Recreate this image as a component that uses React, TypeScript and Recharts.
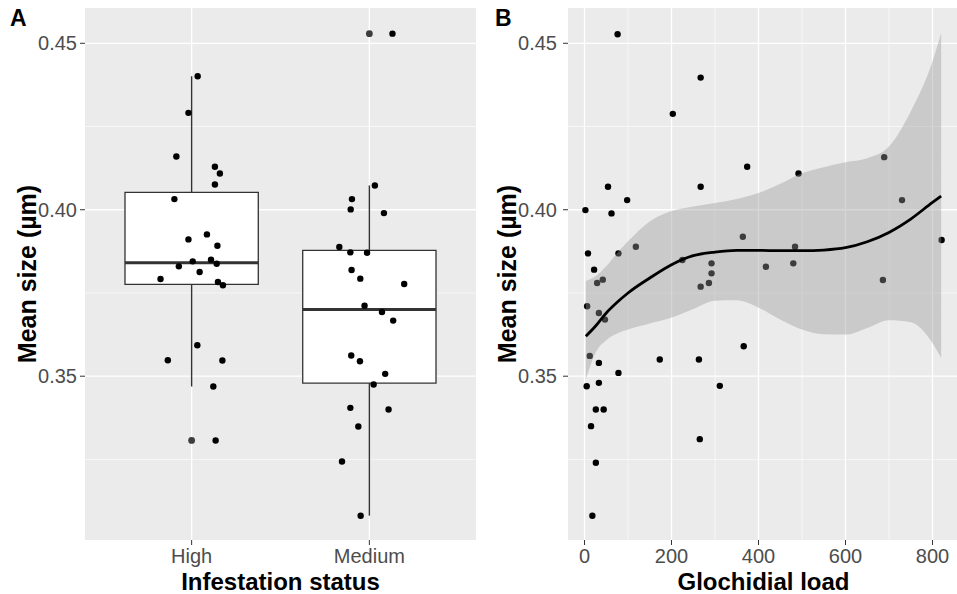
import {
  Area,
  CartesianGrid,
  ComposedChart,
  Line,
  ReferenceArea,
  ReferenceLine,
  Scatter,
  XAxis,
  YAxis,
} from "recharts";

const FONT = '"Liberation Sans", Arial, Helvetica, sans-serif';

// Panel A: mean size per infestation status (jitter in category units)
const statusNames = ["High", "Medium"];
const highSize = [
  0.4401, 0.4291, 0.416, 0.4129, 0.4109, 0.4076, 0.4032, 0.3926, 0.3911, 0.3892,
  0.3845, 0.385, 0.3838, 0.383, 0.3813, 0.3792, 0.3783, 0.3773, 0.3593, 0.3548,
  0.3547, 0.3469, 0.3307,
];
const highJitter = [
  0.034, -0.018, -0.086, 0.131, 0.159, 0.131, -0.097, 0.086, -0.018, 0.145,
  0.006, 0.109, 0.141, -0.072, 0.045, -0.175, 0.148, 0.176, 0.032, -0.134,
  0.173, 0.122, 0.135,
];
const mediumSize = [
  0.4529, 0.4073, 0.4032, 0.4001, 0.399, 0.3888, 0.3872, 0.3871, 0.3819, 0.3793,
  0.3777, 0.3712, 0.3693, 0.3667, 0.3562, 0.3545, 0.3507, 0.3475, 0.3405, 0.34,
  0.3349, 0.3244, 0.3081,
];
const mediumJitter = [
  0.13, 0.031, -0.098, -0.105, 0.082, -0.169, -0.107, -0.013, -0.1, -0.051,
  0.196, -0.027, 0.071, 0.134, -0.102, -0.053, 0.089, 0.024, -0.107, 0.108,
  -0.062, -0.154, -0.049,
];
// [lower whisker, Q1, median, Q3, upper whisker]
const highBox = [0.3469, 0.3776, 0.3841, 0.4052, 0.4401];
const mediumBox = [0.3081, 0.3479, 0.37, 0.3878, 0.4073];

// Panel B: mean size against glochidial load
const glochidialLoad = [
  76, 267, 203, 374, 492, 689, 730, 821, 54, 267, 2, 62, 98, 8, 78, 118, 22, 29,
  42, 364, 484, 480, 417, 292, 292, 286, 267, 686, 225, 366, 263, 311, 6, 33, 47,
  12, 33, 78, 5, 33, 26, 44, 15, 26, 18, 173, 265,
];
const loadSize = [
  0.4527, 0.4397, 0.4288, 0.4129, 0.4109, 0.4158, 0.4029, 0.3909, 0.4069, 0.4069,
  0.3999, 0.3989, 0.4029, 0.3869, 0.3869, 0.3889, 0.382, 0.378, 0.379, 0.3919,
  0.3889, 0.3839, 0.3829, 0.3839, 0.3809, 0.378, 0.3769, 0.3789, 0.3849, 0.359,
  0.355, 0.3471, 0.371, 0.369, 0.367, 0.3561, 0.354, 0.351, 0.347, 0.348, 0.34,
  0.34, 0.335, 0.324, 0.3081, 0.355, 0.3311,
];

// loess fit with its 95% band
const smoothLoad = [3, 25, 50, 75, 100, 150, 200, 250, 300, 350, 400, 450, 500, 550, 600, 650, 700, 750, 800, 820];
const smoothFit = [
  0.362, 0.365, 0.369, 0.3722, 0.375, 0.3795, 0.3835, 0.3862, 0.3873, 0.3878,
  0.3878, 0.3877, 0.3877, 0.3879, 0.3886, 0.3904, 0.3932, 0.3972, 0.4022, 0.4041,
];
const smoothLower = [
  0.349, 0.357, 0.3608, 0.3628, 0.364, 0.3658, 0.3676, 0.3702, 0.3727, 0.3728,
  0.3706, 0.367, 0.364, 0.3626, 0.3625, 0.3645, 0.3668, 0.3662, 0.36, 0.3555,
];
const smoothUpper = [
  0.3786, 0.38, 0.383, 0.387, 0.3905, 0.3965, 0.3996, 0.401, 0.402, 0.4032,
  0.405, 0.4078, 0.411, 0.4128, 0.4143, 0.4155, 0.419, 0.4295, 0.4445, 0.453,
];

const yDomain = [0.3008, 0.4606];
const majorY = [0.35, 0.4, 0.45];
const minorY = [0.325, 0.375, 0.425];
const loadTicks = [0, 200, 400, 600, 800];
const minorLoad = [100, 300, 500, 700];

const tickStyle = { fill: "#4d4d4d", fontSize: 20, fontFamily: FONT };
const titleStyle = { fill: "#000", fontSize: 24, fontWeight: 700, fontFamily: FONT };
const yTitleStyle = { ...titleStyle, fontSize: 25, textAnchor: "middle" as const };

const dot = (fill: string, r = 3.2) => (props: any) =>
  <circle cx={props.cx} cy={props.cy} r={r} fill={fill} />;

function StatusPanel() {
  const groups = [highSize, mediumSize];
  const jitters = [highJitter, mediumJitter];
  const boxes = [highBox, mediumBox];
  const points = groups.flatMap((g, gi) =>
    g.map((y, i) => ({ x: gi + 1 + jitters[gi][i], y }))
  );
  // values beyond the whiskers are also drawn at the box centre
  const outliers = groups.flatMap((g, gi) =>
    g.filter((v) => v < boxes[gi][0] || v > boxes[gi][4]).map((y) => ({ x: gi + 1, y }))
  );

  return (
    <ComposedChart width={476} height={594} margin={{ top: 8, right: 0, bottom: 0, left: 0 }}>
      <CartesianGrid fill="#ebebeb" stroke="#fff" strokeWidth={1.3} horizontalValues={majorY} verticalValues={[1, 2]} />
      <CartesianGrid stroke="#fff" strokeWidth={0.6} horizontalValues={minorY} vertical={false} />
      <XAxis
        type="number"
        dataKey="x"
        domain={[0.4, 2.6]}
        ticks={[1, 2]}
        allowDataOverflow
        tickFormatter={(v) => statusNames[v - 1]}
        tick={tickStyle}
        tickLine={{ stroke: "#333" }}
        tickSize={5}
        tickMargin={4}
        axisLine={false}
        height={54}
        label={{ value: "Infestation status", position: "insideBottom", offset: 4, style: titleStyle }}
      />
      <YAxis
        type="number"
        dataKey="y"
        domain={yDomain}
        ticks={majorY}
        allowDataOverflow
        tickFormatter={(v) => v.toFixed(2)}
        tick={tickStyle}
        tickLine={{ stroke: "#333" }}
        tickSize={5}
        tickMargin={3}
        axisLine={false}
        width={85}
        label={{ value: "Mean size (µm)", angle: -90, position: "insideLeft", offset: 27, style: yTitleStyle }}
      />
      {boxes.map((b, gi) => (
        <ReferenceArea
          key={`box${gi}`}
          x1={gi + 1 - 0.375}
          x2={gi + 1 + 0.375}
          y1={b[1]}
          y2={b[3]}
          fill="#fff"
          fillOpacity={1}
          stroke="#333"
          strokeWidth={1.3}
        />
      ))}
      {boxes.map((b, gi) => (
        <ReferenceLine
          key={`lo${gi}`}
          segment={[{ x: gi + 1, y: b[0] }, { x: gi + 1, y: b[1] }]}
          stroke="#333"
          strokeWidth={1.4}
        />
      ))}
      {boxes.map((b, gi) => (
        <ReferenceLine
          key={`hi${gi}`}
          segment={[{ x: gi + 1, y: b[3] }, { x: gi + 1, y: b[4] }]}
          stroke="#333"
          strokeWidth={1.4}
        />
      ))}
      {boxes.map((b, gi) => (
        <ReferenceLine
          key={`med${gi}`}
          segment={[{ x: gi + 1 - 0.375, y: b[2] }, { x: gi + 1 + 0.375, y: b[2] }]}
          stroke="#333"
          strokeWidth={3}
        />
      ))}
      <Scatter data={outliers} dataKey="y" isAnimationActive={false} shape={dot("#3d3d3d", 3.4)} />
      <Scatter data={points} dataKey="y" isAnimationActive={false} shape={dot("#000")} />
    </ComposedChart>
  );
}

function LoadPanel() {
  const points = glochidialLoad.map((x, i) => ({ x, y: loadSize[i] }));
  const smooth = smoothLoad.map((x, i) => ({
    x,
    fit: smoothFit[i],
    band: [smoothLower[i], smoothUpper[i]],
  }));
  const loadDomain = [-38, 861];

  return (
    <div style={{ position: "relative", width: 479, height: 594 }}>
      <div style={{ position: "absolute", left: 0, top: 0 }}>
        <ComposedChart width={479} height={594} margin={{ top: 8, right: 0, bottom: 0, left: 0 }}>
          <CartesianGrid fill="#ebebeb" stroke="#fff" strokeWidth={1.3} horizontalValues={majorY} verticalValues={loadTicks} />
          <CartesianGrid stroke="#fff" strokeWidth={0.6} horizontalValues={minorY} verticalValues={minorLoad} />
          <XAxis
            type="number"
            dataKey="x"
            domain={loadDomain}
            ticks={loadTicks}
            allowDataOverflow
            tick={tickStyle}
            tickLine={{ stroke: "#333" }}
            tickSize={5}
            tickMargin={4}
            axisLine={false}
            height={54}
            label={{ value: "Glochidial load", position: "insideBottom", offset: 4, style: titleStyle }}
          />
          <YAxis
            type="number"
            dataKey="y"
            domain={yDomain}
            ticks={majorY}
            allowDataOverflow
            tickFormatter={(v) => v.toFixed(2)}
            tick={tickStyle}
            tickLine={{ stroke: "#333" }}
            tickSize={5}
            tickMargin={6}
            axisLine={false}
            width={88}
            label={{ value: "Mean size (µm)", angle: -90, position: "insideLeft", offset: 27, style: yTitleStyle }}
          />
          <Scatter data={points} dataKey="y" isAnimationActive={false} shape={dot("#000")} />
        </ComposedChart>
      </div>
      {/* smoother goes on top of the points, like geom_smooth after geom_point */}
      <div style={{ position: "absolute", left: 0, top: 0 }}>
        <ComposedChart data={smooth} width={479} height={594} margin={{ top: 8, right: 0, bottom: 54, left: 88 }}>
          <XAxis hide type="number" dataKey="x" domain={loadDomain} allowDataOverflow />
          <YAxis hide type="number" domain={yDomain} allowDataOverflow />
          <Area type="monotone" dataKey="band" fill="#999999" fillOpacity={0.4} stroke="none" isAnimationActive={false} />
          <Line type="monotone" dataKey="fit" stroke="#000" strokeWidth={2.8} dot={false} isAnimationActive={false} />
        </ComposedChart>
      </div>
    </div>
  );
}

const tagStyle = (left: number) => ({
  position: "absolute" as const,
  left,
  top: 7,
  fontSize: 23,
  fontWeight: 700,
  lineHeight: 1,
  fontFamily: FONT,
  color: "#000",
});

export default function App() {
  return (
    <div
      style={{
        position: "absolute",
        left: 0,
        top: 0,
        width: 957,
        height: 594,
        overflow: "hidden",
        background: "#fff",
      }}
    >
      <div style={{ position: "absolute", left: 0, top: 0 }}>
        <StatusPanel />
      </div>
      <div style={{ position: "absolute", left: 480, top: 0 }}>
        <LoadPanel />
      </div>
      <div style={tagStyle(10)}>A</div>
      <div style={tagStyle(495)}>B</div>
    </div>
  );
}
